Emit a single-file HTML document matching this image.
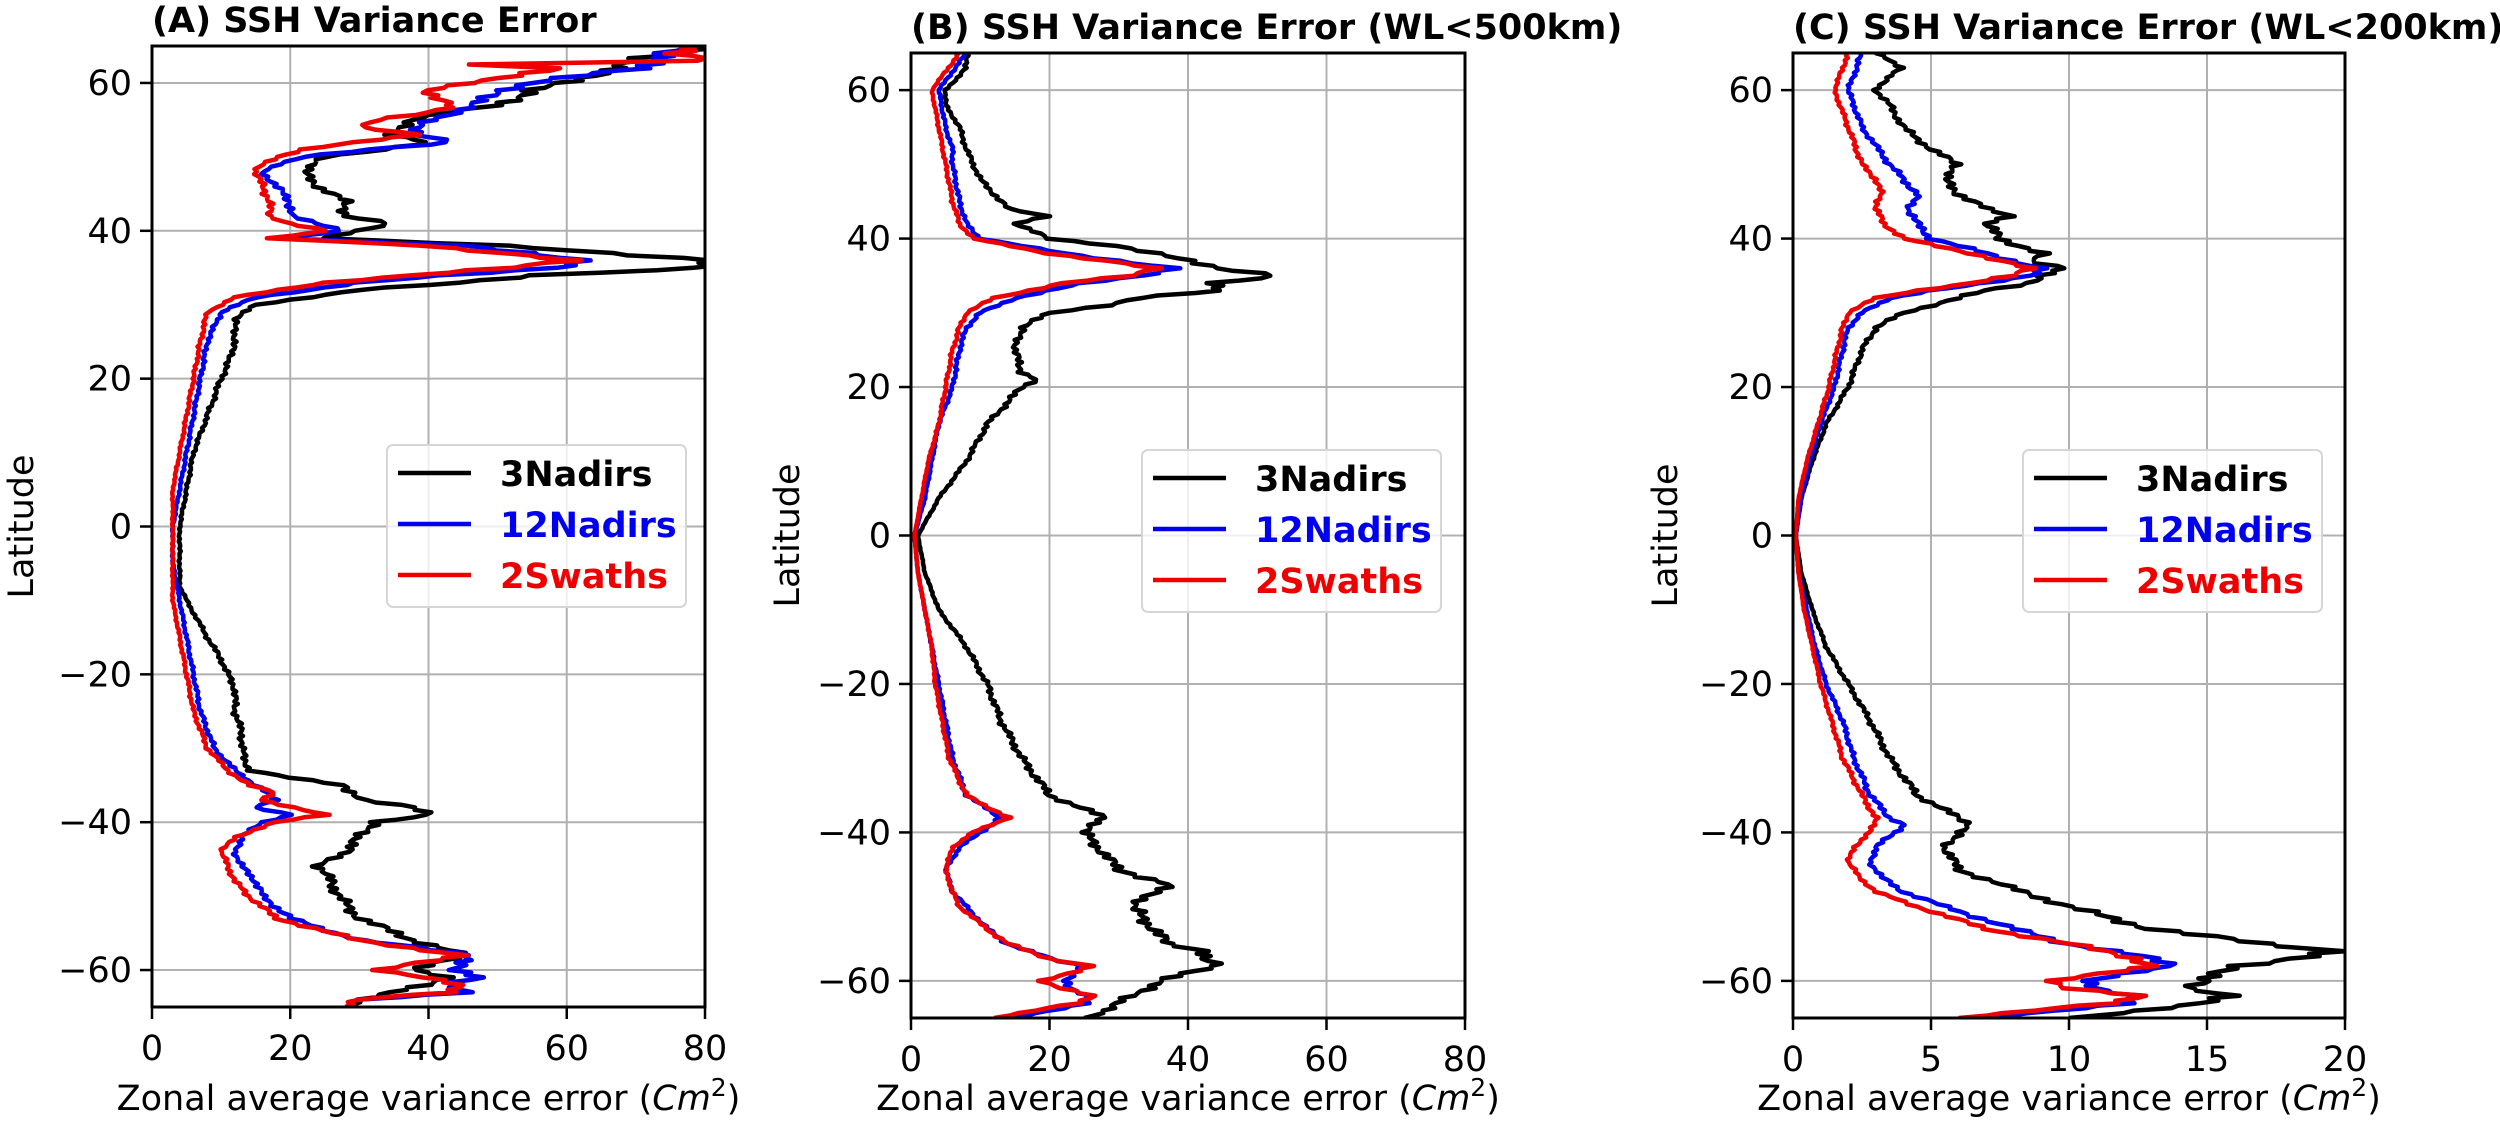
<!DOCTYPE html>
<html><head><meta charset="utf-8"><style>
html,body{margin:0;padding:0;background:#fff;}
svg{display:block;font-family:"DejaVu Sans","Liberation Sans",sans-serif;}
</style></head><body>
<svg id="s" width="2500" height="1121" xmlns="http://www.w3.org/2000/svg"></svg>
<script>
const S=document.getElementById('s');
let out='';
const panels=[
 {x0:152,x1:705,y0:46,y1:1007,xmax:80,xt:[0,20,40,60,80],title:'(A) SSH Variance Error',leg:[387,445],ylab:21,
  k:[[65,80],[63,70],[60,60],[59,55],[57,50],[56,43],[55,37],[53,35],[52,40],[51,33],[50,25],[48,22],[46,24],[44,28],[42,28],[41,34],[40,30],[39,25],[38,50],[37,65],[36,82],[35,80],[34,55],[33,45],[32,30],[30,15],[28,12],[25,12],[22,11],[20,10],[15,8],[10,6],[5,5],[0,4],[-5,4],[-8,4],[-10,5],[-15,8],[-18,10],[-22,12],[-25,12],[-28,13],[-30,13],[-33,14],[-34,20],[-35,28],[-37,30],[-38,38],[-39,41],[-40,32],[-42,30],[-44,28],[-46,24],[-48,26],[-50,27],[-53,30],[-56,38],[-58,45],[-60,38],[-61,42],[-62,40],[-63,35],[-64,30],[-65,28]],
  b:[[65,78],[62,70],[60,55],[59,50],[57,47],[55,40],[53,38],[52,43],[51,32],[50,22],[49,18],[48,16],[46,18],[44,20],[42,20],[41,24],[40,28],[39,18],[38,45],[37,55],[36,62],[35,58],[34,43],[33,30],[31,15],[29,10],[25,8],[20,7],[15,6],[10,5],[5,4],[0,3],[-5,3],[-10,4],[-15,5],[-20,6],[-25,7],[-30,9],[-33,12],[-35,15],[-37,18],[-38,15],[-39,20],[-40,16],[-42,13],[-44,12],[-46,13],[-48,15],[-50,16],[-53,20],[-56,30],[-58,47],[-59,45],[-60,43],[-61,48],[-62,43],[-63,45],[-64,30],[-65,28]],
  r:[[65,80],[64,75],[63,80],[62.5,45],[62,60],[60,45],[59,40],[57,43],[56,40],[55,33],[54,30],[53,38],[52,30],[51,22],[50,18],[49,16],[48,15],[46,16],[44,17],[42,17],[41,20],[40,25],[39,17],[38,40],[37,50],[36,60],[35,52],[34,38],[33,25],[31,12],[29,8],[25,7],[20,6],[15,5],[10,4],[5,3],[0,3],[-5,3],[-10,3],[-15,4],[-20,5],[-25,6],[-30,8],[-33,11],[-35,14],[-36,18],[-37,16],[-38,20],[-39,25],[-40,18],[-42,12],[-44,10],[-46,11],[-48,12],[-50,14],[-53,18],[-56,30],[-58,45],[-59,38],[-60,33],[-61,40],[-62,44],[-63,43],[-64,30],[-65,28]]},
 {x0:911,x1:1465,y0:53,y1:1018,xmax:80,xt:[0,20,40,60,80],title:'(B) SSH Variance Error (WL<500km)',leg:[1142,450],ylab:787,
  k:[[65,8],[63,8],[62,7],[60,5],[58,5],[55,7],[52,8],[50,9],[48,10],[46,12],[44,14],[43,20],[42,15],[40,20],[39,30],[38,35],[37,40],[36,45],[35,53],[34,43],[33,45],[32,33],[31,28],[30,20],[28,16],[25,15],[22,16],[21,18],[20,16],[15,11],[10,8],[5,4],[0,1],[-5,2],[-10,4],[-15,8],[-20,11],[-25,13],[-30,16],[-35,20],[-38,28],[-40,25],[-45,30],[-47,37],[-50,32],[-53,35],[-55,37],[-56,43],[-57,42],[-58,44],[-60,36],[-62,32],[-64,28],[-65,25]],
  b:[[65,8],[60,4],[55,5],[52,6],[50,6],[45,7],[42,8],[40,10],[38,22],[37,30],[36,38],[35,33],[34,25],[32,15],[30,10],[28,8],[25,7],[20,6],[15,4],[10,3],[5,2],[0,0.5],[-5,1],[-10,2],[-15,3],[-20,4],[-25,5],[-30,6],[-35,8],[-38,13],[-40,10],[-42,7],[-45,5],[-48,6],[-50,8],[-53,11],[-55,14],[-57,20],[-58,25],[-60,22],[-61,23],[-62,26],[-63,25],[-65,15]],
  r:[[65,7],[60,3],[55,4],[50,5],[45,6],[42,7],[40,9],[38,20],[37,28],[36,35],[35,32],[34,22],[32,12],[30,8],[28,7],[25,6],[20,5],[15,4],[10,2.5],[5,1.5],[0,0.5],[-5,1],[-10,2],[-15,3],[-20,3.5],[-25,4.5],[-30,5.5],[-35,8],[-38,14],[-40,9],[-42,6],[-45,5],[-48,6],[-50,7],[-53,11],[-55,14],[-57,20],[-58,26],[-60,19],[-61,22],[-62,26],[-63,24],[-65,12]]},
 {x0:1793,x1:2345,y0:53,y1:1018,xmax:20,xt:[0,5,10,15,20],title:'(C) SSH Variance Error (WL<200km)',leg:[2023,450],ylab:1665,
  k:[[65,3],[63,4],[62,3.5],[60,3],[58,3.5],[55,4],[52,5],[50,6],[48,5.5],[46,6],[45,6.5],[44,7],[43,8],[42,7],[40,7.5],[38,9],[37,8.5],[36,10],[35,9],[34,8.5],[33,7],[32,6],[30,4],[28,3],[25,2.5],[20,2],[15,1.2],[10,0.7],[5,0.3],[0,0.1],[-5,0.3],[-10,0.7],[-15,1.2],[-20,2],[-25,2.8],[-30,3.5],[-35,4.5],[-38,6],[-39,6.5],[-40,6],[-42,5.5],[-45,6],[-47,7.5],[-50,10],[-53,13],[-55,17],[-56,20],[-58,16],[-60,15],[-61,14],[-62,16],[-63,15],[-65,10]],
  b:[[65,2.5],[60,2],[55,2.5],[50,3.5],[48,4],[46,4.5],[44,4.2],[42,4.5],[40,5],[38,7],[37,8],[36,9],[35,8.5],[34,7],[33,5],[32,3.5],[30,2.5],[28,2],[25,1.8],[20,1.5],[15,1],[10,0.6],[5,0.3],[0,0.1],[-5,0.2],[-10,0.5],[-15,0.8],[-20,1.2],[-25,1.8],[-30,2.2],[-35,2.8],[-38,3.5],[-39,4],[-40,3.7],[-42,3],[-44,2.8],[-46,3.2],[-48,4],[-50,5.5],[-53,8],[-55,10],[-57,13],[-58,14],[-59,12],[-60,10.5],[-61,11],[-62,12.5],[-63,12],[-65,7]],
  r:[[65,2],[60,1.5],[55,2],[50,2.5],[48,3],[46,3.2],[44,3],[42,3.3],[40,4],[38,6.5],[37,7.5],[36,8.5],[35,8],[34,6.5],[33,4.5],[32,3],[30,2],[28,1.8],[25,1.6],[20,1.3],[15,0.9],[10,0.5],[5,0.2],[0,0.1],[-5,0.2],[-10,0.4],[-15,0.7],[-20,1],[-25,1.4],[-30,1.8],[-35,2.5],[-38,3],[-40,2.8],[-42,2.2],[-44,2],[-46,2.4],[-48,3],[-50,4.5],[-53,7],[-55,10],[-57,12.5],[-58,13],[-59,11],[-60,9.5],[-61,10],[-62,12.5],[-63,11.5],[-65,6]]}
];
panels.forEach((p,i)=>{
 const X=v=>p.x0+v/p.xmax*(p.x1-p.x0), Y=l=>p.y0+(65-l)/130*(p.y1-p.y0);
 out+=`<clipPath id="c${i}"><rect x="${p.x0}" y="${p.y0}" width="${p.x1-p.x0}" height="${p.y1-p.y0}"/></clipPath>`;
 p.xt.forEach(t=>{const x=X(t);out+=`<line x1="${x}" y1="${p.y0}" x2="${x}" y2="${p.y1}" stroke="#b0b0b0" stroke-width="2"/><line x1="${x}" y1="${p.y1}" x2="${x}" y2="${p.y1+12}" stroke="#000" stroke-width="2.5"/><text x="${x}" y="${p.y1+53}" font-size="35" text-anchor="middle">${t}</text>`;});
 [-60,-40,-20,0,20,40,60].forEach(t=>{const y=Y(t);out+=`<line x1="${p.x0}" y1="${y}" x2="${p.x1}" y2="${y}" stroke="#b0b0b0" stroke-width="2"/><line x1="${p.x0-12}" y1="${y}" x2="${p.x0}" y2="${y}" stroke="#000" stroke-width="2.5"/><text x="${p.x0-20}" y="${y+12}" font-size="35" text-anchor="end">${t<0?'\u2212'+(-t):t}</text>`;});
 const sm=(arr,seed)=>{let pts=[];for(let j=0;j<arr.length-1;j++){const [l1,v1]=arr[j],[l2,v2]=arr[j+1];const n=Math.max(2,Math.round(Math.abs(l1-l2)*3));for(let s=0;s<n;s++){const f=s/n;const l=l1+(l2-l1)*f;let v=v1+(v2-v1)*f;v+=v*0.025*Math.sin(l*7.3+seed)+v*0.015*Math.sin(l*17+seed*2);pts.push(X(Math.max(v,0)).toFixed(1)+','+Y(l).toFixed(1));}}const e=arr[arr.length-1];pts.push(X(e[1])+','+Y(e[0]));return pts.join(' ');};
 [['k','#000',1],['b','#0000ee',2],['r','#ee0000',3]].forEach(([k,c,sd])=>{out+=`<polyline clip-path="url(#c${i})" points="${sm(p[k],sd)}" fill="none" stroke="${c}" stroke-width="4.5" stroke-linejoin="round"/>`;});
 out+=`<rect x="${p.x0}" y="${p.y0}" width="${p.x1-p.x0}" height="${p.y1-p.y0}" fill="none" stroke="#000" stroke-width="3"/>`;
 out+=`<text x="${p.x0}" y="${p.y0-14}" font-size="35" font-weight="bold">${p.title.replace('<','&lt;')}</text>`;
 out+=`<text x="${(p.x0+p.x1)/2}" y="1110" font-size="35" text-anchor="middle">Zonal average variance error (<tspan font-style="italic">Cm</tspan><tspan dy="-14" font-size="25">2</tspan><tspan dy="14">)</tspan></text>`;
 out+=`<text transform="translate(${p.ylab+12},${(p.y0+p.y1)/2}) rotate(-90)" font-size="35" text-anchor="middle">Latitude</text>`;
 const [lx,ly]=p.leg;
 out+=`<rect x="${lx}" y="${ly}" width="299" height="162" rx="6" fill="#fff" fill-opacity="0.8" stroke="#d6d6d6" stroke-width="2"/>`;
 [['3Nadirs','#000'],['12Nadirs','#0000ee'],['2Swaths','#ee0000']].forEach(([t,c],j)=>{const y=ly+28+j*51;out+=`<line x1="${lx+11}" y1="${y}" x2="${lx+84}" y2="${y}" stroke="${c}" stroke-width="4.5"/><text x="${lx+113}" y="${y+13}" font-size="35" font-weight="bold" fill="${c}">${t}</text>`;});
});
S.innerHTML=out;
</script>
</body></html>
